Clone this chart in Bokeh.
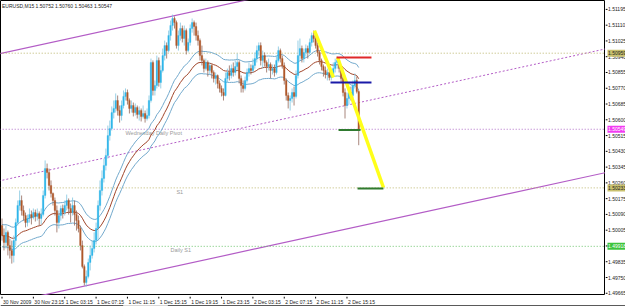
import numpy as np
import pandas as pd
from bokeh.plotting import figure
from bokeh.models import Range1d
from bokeh.layouts import row, column
from bokeh.embed import file_html
from bokeh.resources import INLINE
from bokeh.core.properties import value

FONT = "Liberation Sans"

chart_title = "EURUSD,M15  1.50752 1.50760 1.50463 1.50547"

# ---------------- data ----------------
first_open = 1.50030
closes = [
    1.49976, 1.49939, 1.49993, 1.49922, 1.49896, 1.49869, 1.49949, 1.50046, 1.50138, 1.50165,
    1.50111, 1.50084, 1.50046, 1.50068, 1.50089, 1.50073, 1.50100, 1.50079, 1.50095, 1.50068,
    1.50089, 1.50192, 1.50337, 1.50316, 1.50246, 1.50203, 1.50165, 1.50111, 1.50046, 1.50084,
    1.50122, 1.50100, 1.50138, 1.50165, 1.50122, 1.50100, 1.50138, 1.50089, 1.50057, 1.50014,
    1.49922, 1.49809, 1.49723, 1.49755, 1.49831, 1.49869, 1.49906, 1.49949, 1.50014, 1.50138,
    1.50219, 1.50284, 1.50354, 1.50408, 1.50515, 1.50553, 1.50639, 1.50661, 1.50704, 1.50650,
    1.50623, 1.50677, 1.50726, 1.50747, 1.50704, 1.50661, 1.50677, 1.50639, 1.50666, 1.50629,
    1.50650, 1.50618, 1.50634, 1.50607, 1.50623, 1.50704, 1.50909, 1.50758, 1.50785, 1.50920,
    1.50801, 1.50866, 1.50946, 1.51000, 1.50973, 1.51054, 1.51108, 1.51146, 1.51124, 1.51000,
    1.51054, 1.51092, 1.51038, 1.51081, 1.50973, 1.51017, 1.51092, 1.51124, 1.51103, 1.51054,
    1.51027, 1.50946, 1.50920, 1.50876, 1.50909, 1.50866, 1.50893, 1.50855, 1.50823, 1.50839,
    1.50796, 1.50769, 1.50747, 1.50731, 1.50823, 1.50855, 1.50839, 1.50876, 1.50855, 1.50887,
    1.50909, 1.50823, 1.50785, 1.50769, 1.50812, 1.50855, 1.50876, 1.50866, 1.50893, 1.50930,
    1.50973, 1.51000, 1.50920, 1.50946, 1.50909, 1.50887, 1.50898, 1.50866, 1.50876, 1.50855,
    1.50920, 1.50973, 1.50930, 1.50893, 1.50812, 1.50731, 1.50704, 1.50715, 1.50747, 1.50726,
    1.50839, 1.50946, 1.50984, 1.50930, 1.50963, 1.50984, 1.50963, 1.51017, 1.51054, 1.51038,
    1.51000, 1.50963, 1.50920, 1.50887, 1.50866, 1.50844, 1.50855, 1.50828, 1.50844, 1.50876,
    1.50909, 1.50920, 1.50876, 1.50823, 1.50747, 1.50677, 1.50715, 1.50747, 1.50731, 1.50785,
    1.50812, 1.50752, 1.50547,
]
highs = [
    1.50068, 1.50014, 1.50030, 1.50003, 1.49960, 1.49949, 1.49976, 1.50068, 1.50165, 1.50219,
    1.50192, 1.50138, 1.50100, 1.50089, 1.50122, 1.50111, 1.50122, 1.50116, 1.50122, 1.50106,
    1.50122, 1.50219, 1.50381, 1.50364, 1.50337, 1.50273, 1.50208, 1.50181, 1.50138, 1.50111,
    1.50138, 1.50143, 1.50165, 1.50197, 1.50176, 1.50149, 1.50181, 1.50165, 1.50111, 1.50084,
    1.50030, 1.49949, 1.49820, 1.49788, 1.49852, 1.49922, 1.49949, 1.49993, 1.50046, 1.50165,
    1.50273, 1.50327, 1.50391, 1.50445, 1.50569, 1.50596, 1.50672, 1.50704, 1.50742, 1.50731,
    1.50677, 1.50704, 1.50758, 1.50769, 1.50763, 1.50715, 1.50704, 1.50693, 1.50688, 1.50677,
    1.50672, 1.50661, 1.50677, 1.50650, 1.50661, 1.50731, 1.50930, 1.50920, 1.50812, 1.50946,
    1.50936, 1.50893, 1.50984, 1.51027, 1.51017, 1.51081, 1.51135, 1.51167, 1.51157, 1.51135,
    1.51081, 1.51124, 1.51108, 1.51108, 1.51092, 1.51038, 1.51114, 1.51146, 1.51135, 1.51124,
    1.51081, 1.51038, 1.51000, 1.50930, 1.50930, 1.50920, 1.50909, 1.50898, 1.50866, 1.50855,
    1.50844, 1.50812, 1.50785, 1.50769, 1.50855, 1.50876, 1.50893, 1.50898, 1.50909, 1.50920,
    1.50957, 1.50920, 1.50839, 1.50812, 1.50833, 1.50876, 1.50909, 1.50898, 1.50930, 1.50963,
    1.51000, 1.51017, 1.51017, 1.50973, 1.50963, 1.50920, 1.50930, 1.50909, 1.50898, 1.50898,
    1.50946, 1.50995, 1.50984, 1.50946, 1.50909, 1.50823, 1.50747, 1.50731, 1.50769, 1.50779,
    1.50866, 1.51027, 1.51038, 1.51000, 1.50984, 1.51006, 1.51000, 1.51038, 1.51070, 1.51081,
    1.51060, 1.51017, 1.50973, 1.50930, 1.50898, 1.50887, 1.50876, 1.50866, 1.50855, 1.50909,
    1.50930, 1.50941, 1.50930, 1.50893, 1.50839, 1.50769, 1.50747, 1.50769, 1.50779, 1.50812,
    1.50850, 1.50833, 1.50760,
]
lows = [
    1.49949, 1.49896, 1.49906, 1.49869, 1.49852, 1.49825, 1.49831, 1.49922, 1.50030, 1.50111,
    1.50084, 1.50057, 1.50020, 1.50025, 1.50046, 1.50036, 1.50063, 1.50052, 1.50057, 1.50030,
    1.50036, 1.50079, 1.50176, 1.50284, 1.50219, 1.50181, 1.50138, 1.50084, 1.49993, 1.50014,
    1.50057, 1.50068, 1.50084, 1.50111, 1.50089, 1.50046, 1.50084, 1.50030, 1.50003, 1.49993,
    1.49896, 1.49799, 1.49707, 1.49701, 1.49745, 1.49788, 1.49852, 1.49885, 1.49928, 1.49949,
    1.50111, 1.50192, 1.50262, 1.50327, 1.50391, 1.50488, 1.50542, 1.50607, 1.50639, 1.50623,
    1.50585, 1.50596, 1.50661, 1.50704, 1.50682, 1.50634, 1.50639, 1.50618, 1.50623, 1.50607,
    1.50596, 1.50591, 1.50607, 1.50585, 1.50596, 1.50607, 1.50693, 1.50731, 1.50731, 1.50769,
    1.50779, 1.50769, 1.50855, 1.50920, 1.50930, 1.50963, 1.51027, 1.51081, 1.51092, 1.50984,
    1.50973, 1.51027, 1.51017, 1.51000, 1.50952, 1.50963, 1.51000, 1.51070, 1.51054, 1.51027,
    1.51000, 1.50920, 1.50893, 1.50855, 1.50866, 1.50833, 1.50844, 1.50823, 1.50801, 1.50790,
    1.50769, 1.50747, 1.50726, 1.50704, 1.50726, 1.50801, 1.50812, 1.50823, 1.50833, 1.50839,
    1.50866, 1.50796, 1.50747, 1.50747, 1.50758, 1.50801, 1.50833, 1.50844, 1.50855, 1.50876,
    1.50909, 1.50946, 1.50893, 1.50876, 1.50887, 1.50855, 1.50866, 1.50823, 1.50844, 1.50833,
    1.50844, 1.50909, 1.50909, 1.50876, 1.50790, 1.50704, 1.50661, 1.50650, 1.50693, 1.50677,
    1.50715, 1.50823, 1.50920, 1.50909, 1.50909, 1.50941, 1.50930, 1.50952, 1.50995, 1.51017,
    1.50984, 1.50941, 1.50898, 1.50866, 1.50833, 1.50823, 1.50812, 1.50812, 1.50812, 1.50833,
    1.50855, 1.50876, 1.50855, 1.50801, 1.50726, 1.50607, 1.50661, 1.50682, 1.50704, 1.50715,
    1.50769, 1.50742, 1.50463,
]

time_labels = ["30 Nov 2009", "30 Nov 23:15", "1 Dec 03:15", "1 Dec 07:15", "1 Dec 11:15",
               "1 Dec 15:15", "1 Dec 19:15", "1 Dec 23:15", "2 Dec 03:15", "2 Dec 07:15",
               "2 Dec 11:15", "2 Dec 15:15"]
bars_per_time_label = 16

price_ticks = [1.51195, 1.51110, 1.51025, 1.50940, 1.50855, 1.50770, 1.50685, 1.50600,
               1.50515, 1.50430, 1.50345, 1.50260, 1.50175, 1.50090, 1.50005, 1.49920,
               1.49835, 1.49750, 1.49665]

# horizontal levels (pivot lines)
level_prices = [1.50959, 1.50549, 1.50233, 1.49918]
level_names = ["", "Wednesday Daily Pivot", "S1", "Daily S1"]
level_name_bars = [0, 63, 89, 86]

# equidistant channel: two anchor points per line (bar, price)
channel_bars = [0, 100]
channel_upper = [1.50959, 1.51189]
channel_middle = [1.50274, 1.50504]
channel_lower = [1.49607, 1.49837]

# hand drawn objects at right
yellow_x0 = [159.4, 171.2]
yellow_p0 = [1.51081, 1.50936]
yellow_x1 = [169.1, 194.6]
yellow_p1 = [1.50828, 1.50235]
mark_x0 = [170.7, 167.6, 171.7, 181.4]
mark_x1 = [188.5, 188.5, 182.9, 194.6]
mark_price = [1.50936, 1.50801, 1.50545, 1.50230]

envelope_period = 34
envelope_pct = 0.04

# ---------------- styling ----------------
BULL = "#2FB6EA"
BEAR = "#B0582A"
BULL_WICK = "#7FC4E0"
BEAR_WICK = "#93685A"
PURPLE = "#B35CC6"
TXT = "#222222"

n = len(closes)
idx = np.arange(n)
opens = [first_open] + closes[:-1]
o = np.array(opens); c = np.array(closes); h = np.array(highs); l = np.array(lows)
up = c >= o

CHART_W, CHART_H, RIGHT_W, BOTTOM_H = 605, 295, 20, 11
x_start, x_end = -0.77, 307.9
px_per_bar = CHART_W / (x_end - x_start)
yr = Range1d(1.49653, 1.51243)

p = figure(width=CHART_W, height=CHART_H, output_backend="svg", toolbar_location=None,
           x_range=Range1d(x_start, x_end), y_range=yr,
           x_axis_location=None, y_axis_location=None,
           min_border_left=0, min_border_right=0, min_border_top=0, min_border_bottom=0)
p.grid.visible = False
p.outline_line_color = "black"
p.background_fill_color = "white"
p.border_fill_color = "white"

# channel lines
def extend(a):
    slope = (a[1] - a[0]) / (channel_bars[1] - channel_bars[0])
    return [a[0] + slope * (x_start - 5 - channel_bars[0]), a[0] + slope * (x_end + 5 - channel_bars[0])]

xs_ext = [x_start - 5, x_end + 5]
p.line(xs_ext, extend(channel_upper), line_color=PURPLE, line_width=1.2)
p.line(xs_ext, extend(channel_lower), line_color=PURPLE, line_width=1.2)
p.line(xs_ext, extend(channel_middle), line_color=PURPLE, line_width=1, line_dash="2 2")

# horizontal levels
lvl_colors = ["#B9B36A", "#B06CC8", "#BDB66E", "#6CC46C"]
for pr, col in zip(level_prices, lvl_colors):
    p.line([x_start - 5, x_end + 5], [pr, pr], line_color=col, line_width=1, line_dash="1 2")

names = [(b, pr, t) for b, pr, t in zip(level_name_bars, level_prices, level_names) if t]
p.text(x=[b for b, _, _ in names], y=[pr for _, pr, _ in names], text=[t for _, _, t in names],
       text_font=value(FONT), text_font_size="5.5px", text_color="#9A9A9A",
       text_baseline="top", y_offset=1)

# envelopes
mid = pd.Series(closes).ewm(span=envelope_period, adjust=False).mean().values
upper = mid * (1 + envelope_pct / 100)
lower = mid * (1 - envelope_pct / 100)
p.line(idx, upper, line_color="#72A9CC", line_width=1)
p.line(idx, lower, line_color="#72A9CC", line_width=1)
p.line(idx, mid, line_color="#A0452A", line_width=1)

# candles
p.segment(idx[up], h[up], idx[up], l[up], line_color=BULL_WICK, line_width=0.8)
p.segment(idx[~up], h[~up], idx[~up], l[~up], line_color=BEAR_WICK, line_width=0.8)
p.vbar(x=idx[up], top=c[up], bottom=o[up], width=0.8, fill_color=BULL, line_color=BULL, line_width=0.3)
p.vbar(x=idx[~up], top=o[~up], bottom=c[~up], width=0.8, fill_color=BEAR, line_color=BEAR, line_width=0.3)

# drawn objects
p.segment(yellow_x0, yellow_p0, yellow_x1, yellow_p1, line_color="#FFFF1A", line_width=3.5)
p.segment(mark_x0, mark_price, mark_x1, mark_price,
          line_color=["#E02828", "#1A1AA8", "#2F7A2F", "#2F7A2F"], line_width=2)

# title
p.text(x=[x_start + 1.5 / px_per_bar], y=[yr.end], text=[chart_title], text_font=value(FONT),
       text_font_size="5px", text_baseline="top", text_color=TXT, y_offset=2)

# ---------------- right price scale ----------------
pr_fig = figure(width=RIGHT_W, height=CHART_H, output_backend="svg", toolbar_location=None,
                x_range=Range1d(0, RIGHT_W), y_range=yr, x_axis_location=None, y_axis_location=None,
                min_border_left=0, min_border_right=0, min_border_top=0, min_border_bottom=0)
pr_fig.grid.visible = False
pr_fig.outline_line_color = None
pr_fig.border_fill_color = "white"
pr_fig.segment(x0=0, y0=price_ticks, x1=2, y1=price_ticks, line_color="black", line_width=1)
pr_fig.text(x=2.5, y=price_ticks, text=[f"{v:.5f}" for v in price_ticks], text_font=value(FONT),
            text_font_size="5px", text_baseline="middle", text_color=TXT)
tag_bg = ["#C9C16E", "#F23CF2", "#C9C16E", "#3CC43C"]
tag_fg = ["#222222", "#FFFFFF", "#222222", "#FFFFFF"]
pr_fig.rect(x=11, y=level_prices, width=18, height=7, height_units="screen",
            fill_color=tag_bg, line_color=None)
pr_fig.text(x=2.5, y=level_prices, text=[f"{v:.5f}" for v in level_prices], text_font=value(FONT),
            text_font_size="5px", text_baseline="middle", text_color=tag_fg)

# ---------------- bottom time scale ----------------
x_full0 = x_start
x_full1 = x_start + (CHART_W + RIGHT_W) / px_per_bar
tm_fig = figure(width=CHART_W + RIGHT_W, height=BOTTOM_H, output_backend="svg", toolbar_location=None,
                x_range=Range1d(x_full0, x_full1),
                y_range=Range1d(0, BOTTOM_H), x_axis_location=None, y_axis_location=None,
                min_border_left=0, min_border_right=0, min_border_top=0, min_border_bottom=0)
tm_fig.grid.visible = False
tm_fig.outline_line_color = None
tm_fig.border_fill_color = "white"
tm_fig.background_fill_color = "white"
tick_bars = [k * bars_per_time_label for k in range(len(time_labels))]
tm_fig.segment(x0=tick_bars, y0=BOTTOM_H, x1=tick_bars, y1=BOTTOM_H - 2, line_color="black")
tm_fig.text(x=tick_bars, y=BOTTOM_H - 2, text=time_labels, text_font=value(FONT),
            text_font_size="5px", text_baseline="top", text_color=TXT, x_offset=1)
# window frame edge under the time scale (with the lighter chart tab)
tab_x0, tab_x1 = x_start + 123 / px_per_bar, x_start + 167 / px_per_bar
tm_fig.quad(left=[x_full0, tab_x1], right=[tab_x0, x_full1], bottom=0, top=2.5,
            fill_color="#5A5A5A", line_color=None)
tm_fig.quad(left=[tab_x0], right=[tab_x1], bottom=0, top=2.5, fill_color="#D8D8D8", line_color=None)

layout = column(row(p, pr_fig, spacing=0), tm_fig, spacing=0)
open("out.html", "w").write(file_html(layout, INLINE))
